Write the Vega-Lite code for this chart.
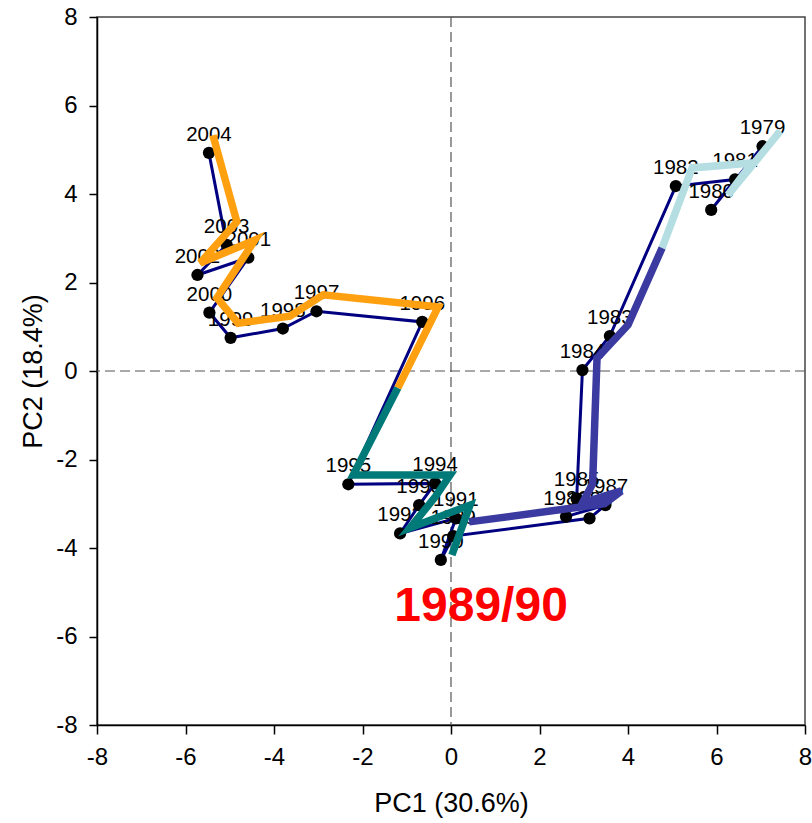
{
  "$schema": "https://vega.github.io/schema/vega-lite/v6.json",
  "width": 708,
  "height": 708,
  "autosize": {"type": "none"},
  "padding": {"left": 97, "top": 17, "right": 7, "bottom": 98},
  "background": "white",
  "config": {
    "font": "Liberation Sans",
    "view": {"stroke": "#444444", "strokeWidth": 1.5},
    "axis": {
      "grid": false,
      "domainColor": "#000000",
      "domainWidth": 1.5,
      "tickColor": "#000000",
      "tickWidth": 1.5,
      "labelColor": "#000000",
      "titleColor": "#000000",
      "labelFontSize": 24,
      "titleFontSize": 27,
      "titleFontWeight": "normal",
      "labelFlush": false,
      "labelOverlap": false,
      "labelExpr": "'' + datum.value"
    }
  },
  "datasets": {
    "pts": [
      {"year": 1979, "x": 7.04, "y": 5.08},
      {"year": 1980, "x": 5.88, "y": 3.64},
      {"year": 1981, "x": 6.42, "y": 4.33},
      {"year": 1982, "x": 5.08, "y": 4.18},
      {"year": 1983, "x": 3.59, "y": 0.79},
      {"year": 1984, "x": 2.97, "y": 0.02},
      {"year": 1985, "x": 2.84, "y": -2.88},
      {"year": 1986, "x": 2.60, "y": -3.29},
      {"year": 1987, "x": 3.49, "y": -3.03},
      {"year": 1988, "x": 3.13, "y": -3.33},
      {"year": 1989, "x": 0.05, "y": -3.73},
      {"year": 1990, "x": -0.23, "y": -4.27},
      {"year": 1991, "x": 0.11, "y": -3.33},
      {"year": 1992, "x": -1.15, "y": -3.67},
      {"year": 1993, "x": -0.72, "y": -3.03},
      {"year": 1994, "x": -0.36, "y": -2.54},
      {"year": 1995, "x": -2.32, "y": -2.56},
      {"year": 1996, "x": -0.65, "y": 1.11},
      {"year": 1997, "x": -3.04, "y": 1.35},
      {"year": 1998, "x": -3.80, "y": 0.96},
      {"year": 1999, "x": -4.98, "y": 0.75},
      {"year": 2000, "x": -5.46, "y": 1.32},
      {"year": 2001, "x": -4.58, "y": 2.56},
      {"year": 2002, "x": -5.73, "y": 2.17},
      {"year": 2003, "x": -5.07, "y": 2.85},
      {"year": 2004, "x": -5.47, "y": 4.93}
    ],
    "trend": [
      {"period": "A", "seq": 1, "x": 7.44, "y": 5.42},
      {"period": "A", "seq": 2, "x": 6.26, "y": 3.98},
      {"period": "A", "seq": 3, "x": 6.80, "y": 4.70},
      {"period": "A", "seq": 4, "x": 5.45, "y": 4.59},
      {"period": "A", "seq": 5, "x": 4.77, "y": 2.78},
      {"period": "B", "seq": 5, "x": 4.77, "y": 2.78},
      {"period": "B", "seq": 6, "x": 4.00, "y": 1.04},
      {"period": "B", "seq": 7, "x": 3.30, "y": 0.29},
      {"period": "B", "seq": 8, "x": 3.20, "y": -2.55},
      {"period": "B", "seq": 9, "x": 2.97, "y": -2.98},
      {"period": "B", "seq": 10, "x": 3.85, "y": -2.71},
      {"period": "B", "seq": 11, "x": 3.47, "y": -3.00},
      {"period": "B", "seq": 12, "x": 0.41, "y": -3.41},
      {"period": "C", "seq": 13, "x": 0.02, "y": -4.16},
      {"period": "C", "seq": 14, "x": 0.43, "y": -3.03},
      {"period": "C", "seq": 15, "x": -0.93, "y": -3.55},
      {"period": "C", "seq": 16, "x": -0.36, "y": -2.85},
      {"period": "C", "seq": 17, "x": -0.02, "y": -2.35},
      {"period": "C", "seq": 18, "x": -2.21, "y": -2.35},
      {"period": "C", "seq": 19, "x": -1.20, "y": -0.38},
      {"period": "D", "seq": 19, "x": -1.20, "y": -0.38},
      {"period": "D", "seq": 20, "x": -0.29, "y": 1.45},
      {"period": "D", "seq": 21, "x": -2.89, "y": 1.72},
      {"period": "D", "seq": 22, "x": -3.64, "y": 1.24},
      {"period": "D", "seq": 23, "x": -4.81, "y": 1.08},
      {"period": "D", "seq": 24, "x": -5.29, "y": 1.65},
      {"period": "D", "seq": 25, "x": -4.43, "y": 2.96},
      {"period": "D", "seq": 26, "x": -5.67, "y": 2.44},
      {"period": "D", "seq": 27, "x": -4.84, "y": 3.37},
      {"period": "D", "seq": 28, "x": -5.38, "y": 5.33}
    ],
    "ref": [{"x": 0, "y": 0}],
    "ann": [{"x": 0.68, "y": -5.33, "text": "1989/90"}]
  },
  "layer": [
    {
      "data": {"name": "ref"},
      "mark": {"type": "rule", "color": "#555555", "strokeWidth": 1.2, "strokeDash": [10, 5]},
      "encoding": {
        "x": {
          "field": "x", "type": "quantitative",
          "scale": {"domain": [-8, 8], "nice": false, "zero": false},
          "axis": {"values": [-8, -6, -4, -2, 0, 2, 4, 6, 8], "tickSize": 9, "labelPadding": 11, "titlePadding": 21, "title": "PC1 (30.6%)"}
        }
      }
    },
    {
      "data": {"name": "ref"},
      "mark": {"type": "rule", "color": "#555555", "strokeWidth": 1.2, "strokeDash": [10, 5]},
      "encoding": {
        "y": {
          "field": "y", "type": "quantitative",
          "scale": {"domain": [-8, 8], "nice": false, "zero": false},
          "axis": {"values": [-8, -6, -4, -2, 0, 2, 4, 6, 8], "tickSize": 8, "labelPadding": 12, "titlePadding": 8, "title": "PC2 (18.4%)"}
        }
      }
    },
    {
      "data": {"name": "pts"},
      "mark": {"type": "line", "color": "#000080", "strokeWidth": 3},
      "encoding": {
        "x": {"field": "x", "type": "quantitative", "title": "PC1 (30.6%)"},
        "y": {"field": "y", "type": "quantitative", "title": "PC2 (18.4%)"},
        "order": {"field": "year", "type": "quantitative"}
      }
    },
    {
      "data": {"name": "pts"},
      "mark": {"type": "circle", "color": "#000000", "opacity": 1, "size": 150},
      "encoding": {
        "x": {"field": "x", "type": "quantitative", "title": "PC1 (30.6%)"},
        "y": {"field": "y", "type": "quantitative", "title": "PC2 (18.4%)"}
      }
    },
    {
      "data": {"name": "pts"},
      "mark": {"type": "text", "fontSize": 20.5, "dy": -18, "color": "#000000", "align": "center", "baseline": "middle"},
      "encoding": {
        "x": {"field": "x", "type": "quantitative", "title": "PC1 (30.6%)"},
        "y": {"field": "y", "type": "quantitative", "title": "PC2 (18.4%)"},
        "text": {"field": "year", "type": "nominal"}
      }
    },
    {
      "data": {"name": "trend"},
      "mark": {"type": "line", "strokeWidth": 7.5, "strokeJoin": "miter"},
      "encoding": {
        "x": {"field": "x", "type": "quantitative", "title": "PC1 (30.6%)"},
        "y": {"field": "y", "type": "quantitative", "title": "PC2 (18.4%)"},
        "color": {
          "field": "period", "type": "nominal", "legend": null,
          "scale": {"domain": ["A", "B", "C", "D"], "range": ["#B4DEE2", "#3A3AA0", "#007A78", "#FFA010"]}
        },
        "order": {"field": "seq", "type": "quantitative"}
      }
    },
    {
      "data": {"name": "ann"},
      "mark": {"type": "text", "fontSize": 48, "fontWeight": "bold", "color": "#FF0000", "align": "center", "baseline": "middle"},
      "encoding": {
        "x": {"field": "x", "type": "quantitative", "title": "PC1 (30.6%)"},
        "y": {"field": "y", "type": "quantitative", "title": "PC2 (18.4%)"},
        "text": {"field": "text", "type": "nominal"}
      }
    }
  ]
}
